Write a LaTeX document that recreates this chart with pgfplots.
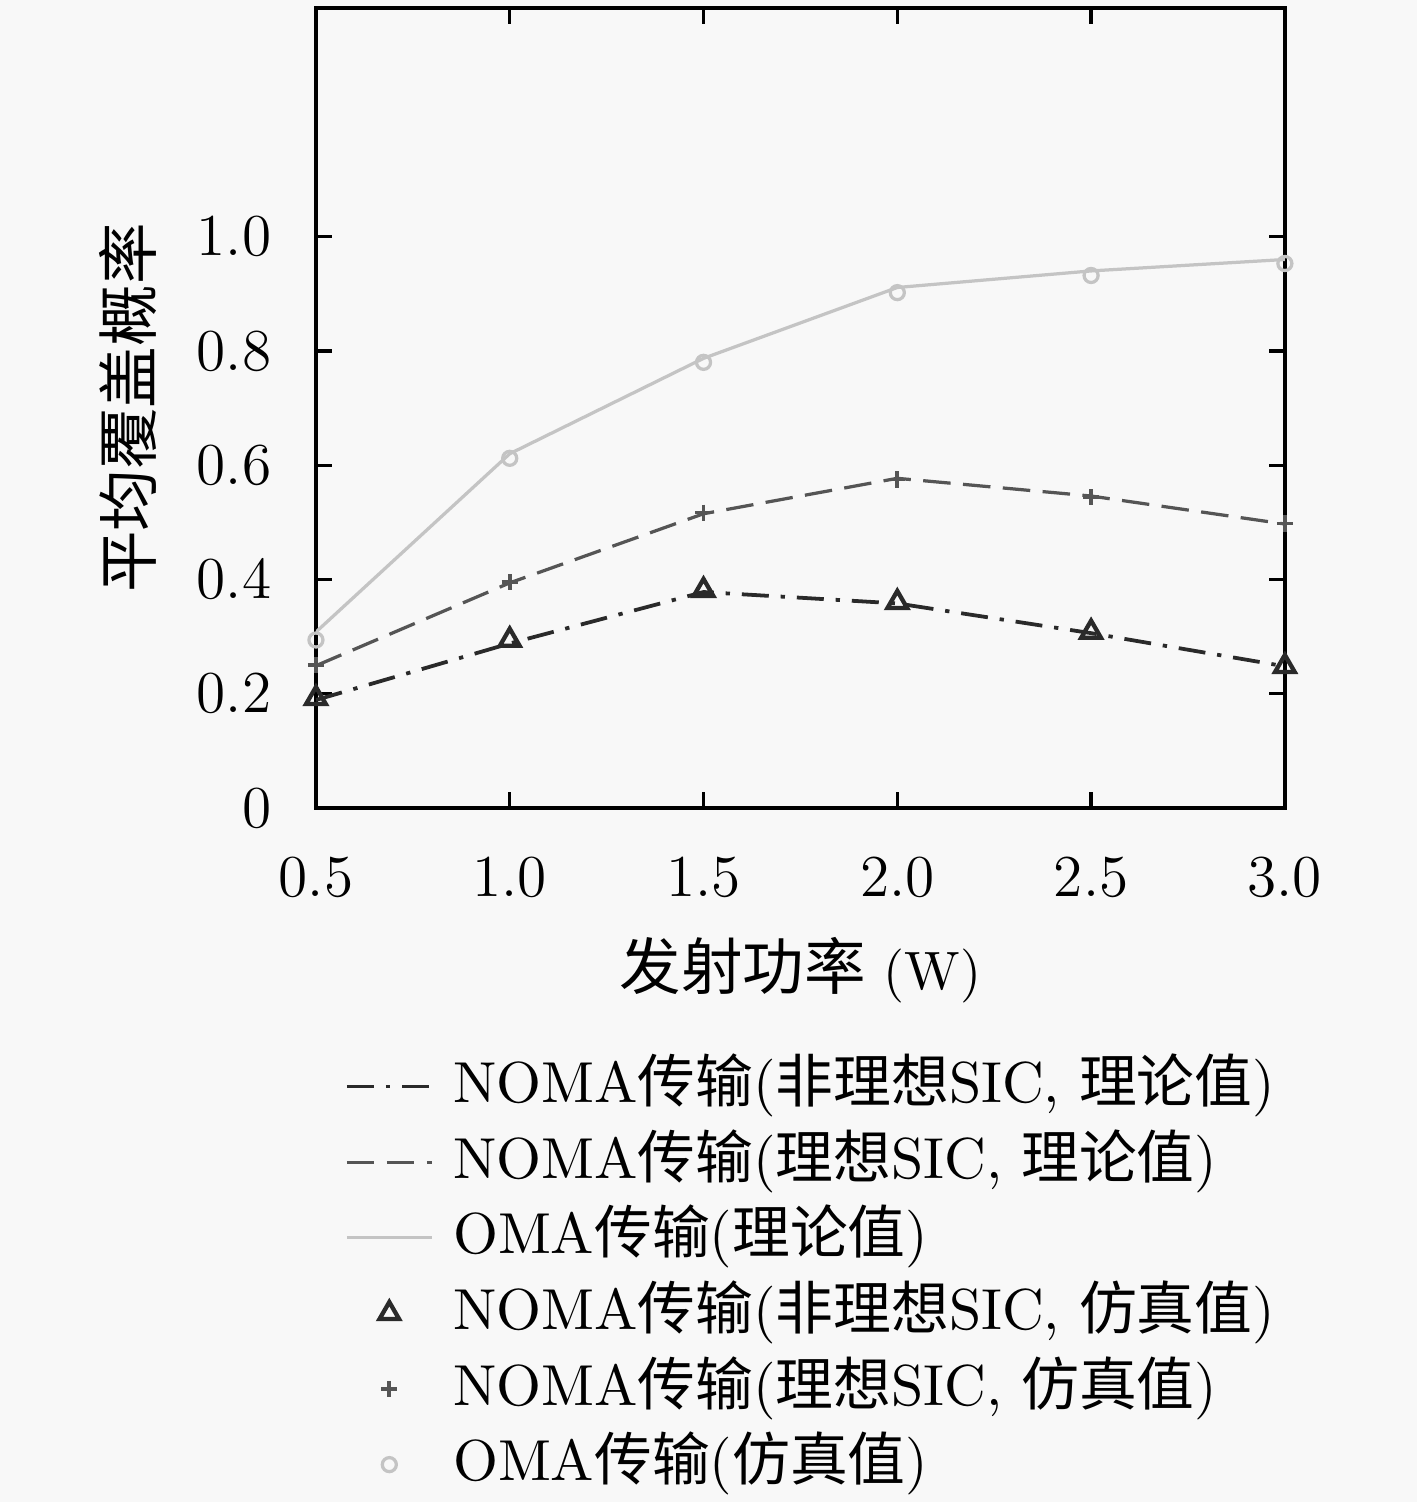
\documentclass[border=0pt]{standalone}
\usepackage{fontspec}
\usepackage{pgfplots}
\pgfplotsset{compat=1.18}
\newfontfamily\cjk{Noto Sans CJK SC}
\definecolor{bg}{HTML}{F8F8F8}
\definecolor{cA}{HTML}{2A2A2A}
\definecolor{cB}{HTML}{555555}
\definecolor{cC}{HTML}{C4C4C4}
\begin{document}
\begin{tikzpicture}
\fill[bg] (-58.5pt,-128.5pt) rectangle (203.8pt,149.6pt);
\begin{axis}[
  scale only axis,
  width=179.4pt, height=148.1pt,
  xmin=0.5, xmax=3.0, ymin=0, ymax=1.4,
  axis line style={line width=0.75pt},
  every tick/.style={line width=0.6pt, black},
  tick align=inside, major tick length=3pt,
  xtick={0.5,1.0,1.5,2.0,2.5,3.0},
  xticklabels={0.5,1.0,1.5,2.0,2.5,3.0},
  ytick={0,0.2,0.4,0.6,0.8,1.0},
  yticklabels={0,0.2,0.4,0.6,0.8,1.0},
  tick label style={font=\fontsize{11}{13}\selectfont},
  xticklabel style={anchor=center, yshift=-12.9pt, inner sep=0pt},
  yticklabel style={anchor=east, xshift=-8.1pt, inner sep=0pt},
  xlabel={{\cjk\fontsize{11.4}{13}\selectfont 发射功率} (W)},
  ylabel={\cjk\fontsize{11.4}{13}\selectfont 平均覆盖概率},
  label style={font=\fontsize{11}{13}\selectfont},
  every axis x label/.style={at={(axis description cs:0.5,-0.2026)}, anchor=center},
  every axis y label/.style={at={(axis description cs:-0.194,0.5)}, rotate=90, anchor=center},
  legend style={at={(axis description cs:0.030,-0.301)}, anchor=north west,
    draw=none, fill=none, inner sep=0pt, outer sep=0pt,
    font=\fontsize{10.7}{12}\selectfont,
    nodes={inner sep=0pt, text height=10pt, text depth=4pt},
    column sep=3.6pt, row sep=0pt},
  legend cell align=left,
  legend image code/.code={\draw[mark repeat=2,mark phase=2] plot coordinates {(0pt,0pt) (7.85pt,0pt) (15.7pt,0pt)};},
]
% theory lines
\addplot[cA, line width=0.7pt, dash pattern=on 5pt off 2.2pt on 0.8pt off 2.2pt] coordinates {
 (0.5,0.189) (1.0,0.288) (1.5,0.378) (2.0,0.358) (2.5,0.306) (3.0,0.248)};
\addlegendentry{NOMA{\cjk 传输}({\cjk 非理想}SIC, {\cjk 理论值})}
\addplot[cB, line width=0.6pt, dash pattern=on 5.1pt off 2.3pt] coordinates {
 (0.5,0.249) (1.0,0.394) (1.5,0.515) (2.0,0.577) (2.5,0.546) (3.0,0.497)};
\addlegendentry{NOMA{\cjk 传输}({\cjk 理想}SIC, {\cjk 理论值})}
\addplot[cC, line width=0.6pt] coordinates {
 (0.5,0.308) (1.0,0.620) (1.5,0.787) (2.0,0.911) (2.5,0.940) (3.0,0.960)};
\addlegendentry{OMA{\cjk 传输}({\cjk 理论值})}
% simulation marks
\addplot[only marks, cA, mark=triangle, mark size=2.1pt, mark options={line width=0.8pt}] coordinates {
 (0.5,0.192) (1.0,0.294) (1.5,0.381) (2.0,0.360) (2.5,0.308) (3.0,0.248)};
\addlegendentry{NOMA{\cjk 传输}({\cjk 非理想}SIC, {\cjk 仿真值})}
\addplot[only marks, cB, mark=+, mark size=1.5pt, mark options={line width=0.7pt}] coordinates {
 (0.5,0.250) (1.0,0.395) (1.5,0.517) (2.0,0.575) (2.5,0.544) (3.0,0.498)};
\addlegendentry{NOMA{\cjk 传输}({\cjk 理想}SIC, {\cjk 仿真值})}
\addplot[only marks, cC, mark=o, mark size=1.3pt, mark options={line width=0.6pt}] coordinates {
 (0.5,0.294) (1.0,0.612) (1.5,0.780) (2.0,0.902) (2.5,0.932) (3.0,0.953)};
\addlegendentry{OMA{\cjk 传输}({\cjk 仿真值})}
\end{axis}
\pgfresetboundingbox
\path[use as bounding box] (-58.5pt,-128.5pt) rectangle (203.8pt,149.6pt);
\end{tikzpicture}
\end{document}
